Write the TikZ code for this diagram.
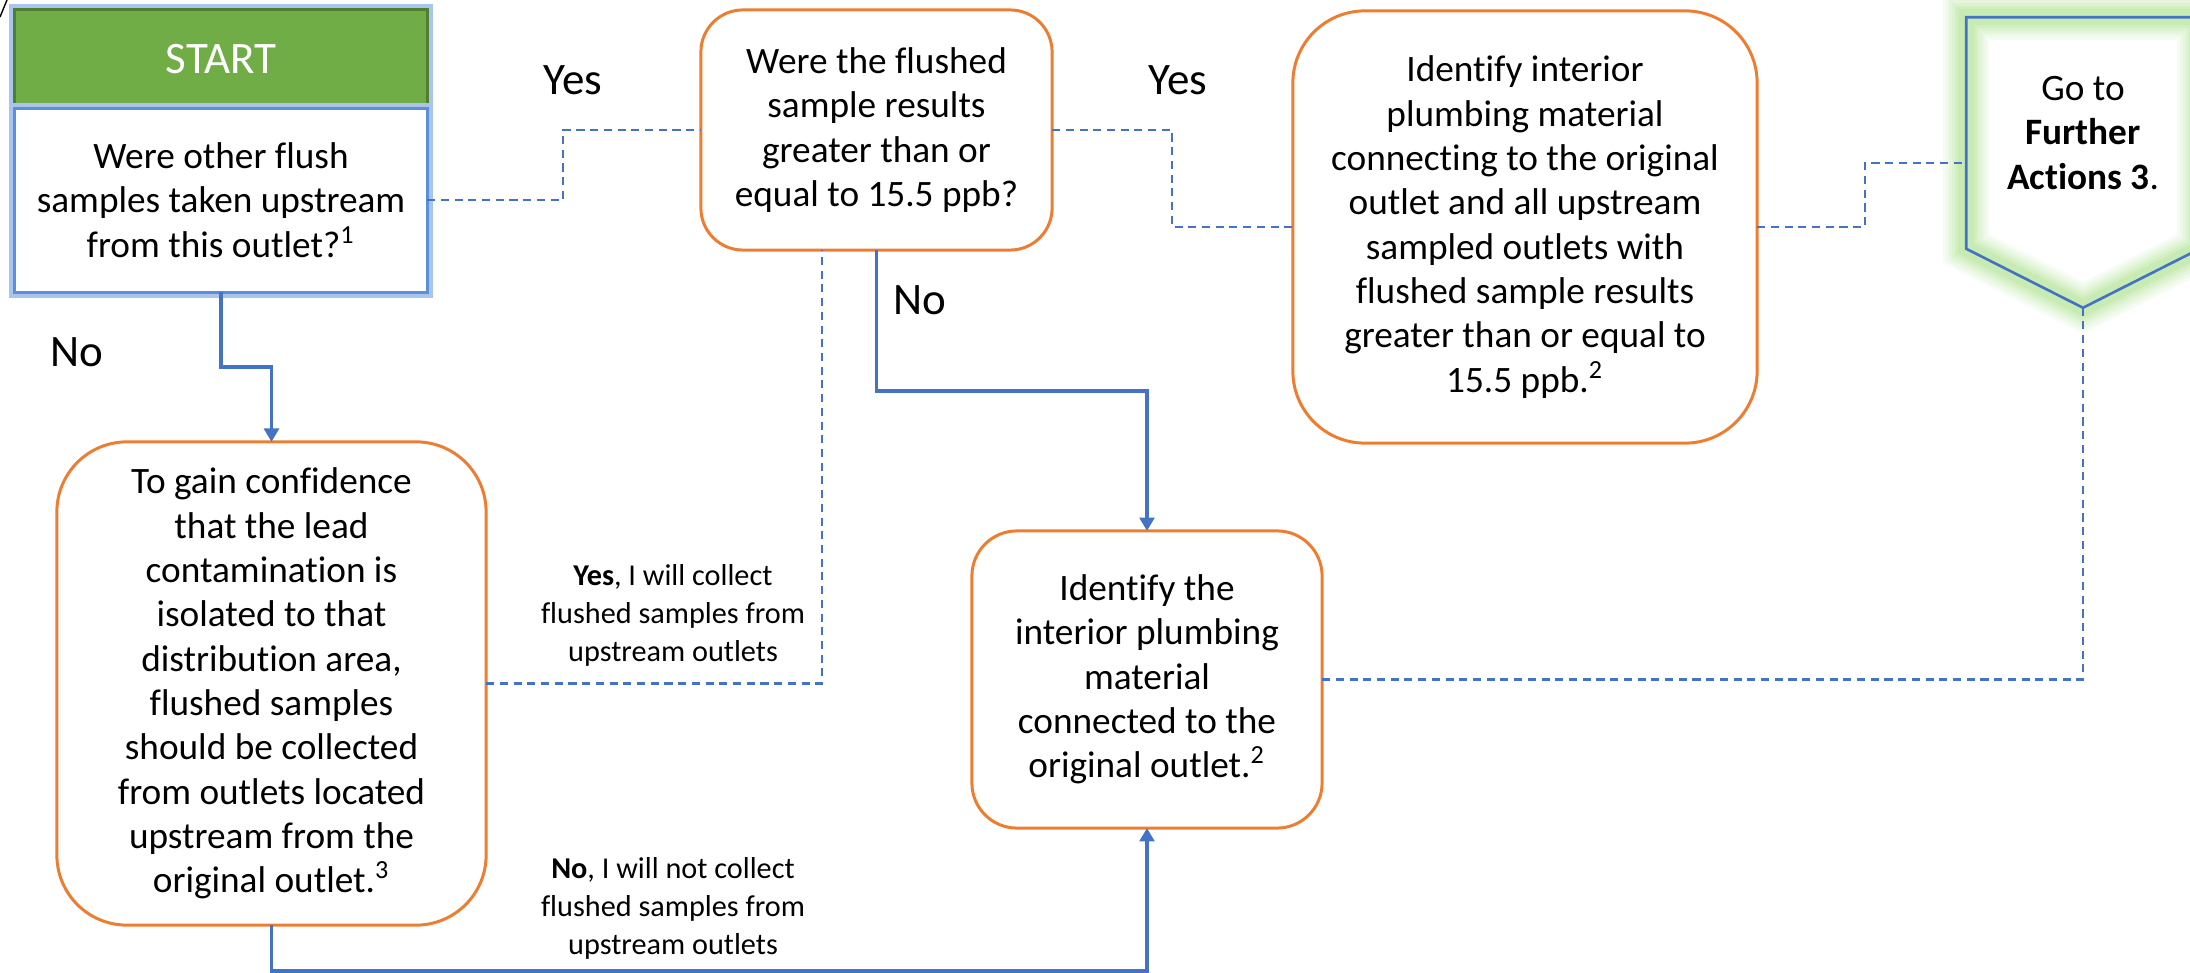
\documentclass[tikz,border=0pt]{standalone}
\usepackage{fontspec}
\setmainfont{Carlito}[Ligatures=NoCommon]
\usetikzlibrary{arrows.meta,positioning,calc}
\definecolor{boxorange}{HTML}{ED7D31}
\definecolor{lineblue}{HTML}{4472C4}
\definecolor{edgeblue}{HTML}{5B8FD9}
\definecolor{startgreen}{HTML}{70AD47}
\definecolor{startedge}{HTML}{507E32}
\definecolor{glowblue}{HTML}{A9C5EE}
\definecolor{glowgreen}{HTML}{B5E59A}
\newcommand{\bodyfont}{\fontsize{10.6}{12.6}\selectfont}
\newcommand{\bigfont}{\fontsize{12.8}{15}\selectfont}
\newcommand{\notefont}{\fontsize{8.6}{10.8}\selectfont}

\begin{document}
\begin{tikzpicture}[x=0.01cm, y=-0.01cm,
  >={Triangle[width=4.2pt,length=3.8pt]},
  box/.style={draw=boxorange, line width=0.85pt, fill=white, align=center, inner sep=0pt, outer sep=0pt, font=\bodyfont},
  glow/.style={preaction={draw=glowblue, line width=0.11cm}},
  flow/.style={draw=lineblue, line width=1.1pt},
  link/.style={draw=lineblue, line width=0.6pt, dash pattern=on 2.3pt off 1.6pt},
  lbl/.style={font=\bigfont, inner sep=0pt},
  note/.style={font=\notefont, align=center, inner sep=0pt}]
  \useasboundingbox (0,0) rectangle (2190,973);
  \draw (0,17) -- (7,0);

  \node[box, glow, draw=startedge, fill=startgreen, text=white, font=\bigfont,
        minimum width=4.12cm, minimum height=0.98cm] (start) at (221,59) {START};
  \node[box, glow, draw=edgeblue, below=0pt of start, minimum width=4.12cm, minimum height=1.84cm] (q1)
        {Were other flush\\samples taken upstream\\from this outlet?\textsuperscript{1}};
  \node[box, rounded corners=0.42cm, minimum width=3.51cm, minimum height=2.4cm] (q2) at (876.5,130)
        {Were the flushed\\sample results\\greater than or\\equal to 15.5 ppb?};
  \node[box, rounded corners=0.72cm, minimum width=4.64cm, minimum height=4.32cm] (action) at (1525,227)
        {Identify interior\\plumbing material\\connecting to the original\\outlet and all upstream\\sampled outlets with\\flushed sample results\\greater than or equal to\\15.5 ppb.\textsuperscript{2}};
  \node[box, rounded corners=0.45cm, minimum width=3.5cm, minimum height=2.97cm] (ident) at (1147,679.5)
        {Identify the\\interior plumbing\\material\\connected to the\\original outlet.\textsuperscript{2}};
  \node[box, rounded corners=0.7cm, minimum width=4.29cm, minimum height=4.83cm] (gain) at (271.5,683.5)
        {To gain confidence\\that the lead\\contamination is\\isolated to that\\distribution area,\\flushed samples\\should be collected\\from outlets located\\upstream from the\\original outlet.\textsuperscript{3}};

  \node[align=center, font=\bodyfont, inner sep=0pt, minimum width=2.32cm, minimum height=2.3cm] (further) at (2083,133)
        {Go to\\\textbf{Further}\\\textbf{Actions 3}.};
  \coordinate (tip) at ($(further.south)+(0,59)$);
  \foreach \w/\c in {0.46/12, 0.4/22, 0.34/34, 0.28/48, 0.22/62, 0.16/76}
    \draw[glowgreen!\c, line width=\w cm] (further.north west) -- (further.north east) -- (further.south east) -- (tip) -- (further.south west) -- cycle;
  \draw[lineblue, line width=0.75pt] (further.north west) -- (further.north east) -- (further.south east) -- (tip) -- (further.south west) -- cycle;

  \node[lbl] (no1) at (77,352) {No};
  \node[lbl] (yes1) at (573,80) {Yes};
  \node[lbl] (yes2) at (1178,80) {Yes};
  \node[lbl] (no2) at (920,300) {No};
  \node[note] (yesnote) at (673,615) {\textbf{Yes}, I will collect\\flushed samples from\\upstream outlets};
  \node[note] (nonote) at (673,908) {\textbf{No}, I will not collect\\flushed samples from\\upstream outlets};

  \draw[flow, ->] (q1.south) -- ++(0,75) -| (gain.north);
  \draw[link] (q1.east) -- ++(136,0) |- (q2.west);
  \draw[link] (q2.east) -- ++(120,0) |- (action.west);
  \draw[link] (action.east) -- ++(108,0) |- ([yshift=-0.3cm]further.west);
  \draw[flow, ->] (q2.south) -- ++(0,141) -| (ident.north);
  \draw[link] (gain.east) -| ([xshift=-0.545cm]q2.south);
  \draw[flow, ->] (gain.south) -- ++(0,46) -| (ident.south);
  \draw[link] (ident.east) -| (tip);
\end{tikzpicture}
\end{document}
